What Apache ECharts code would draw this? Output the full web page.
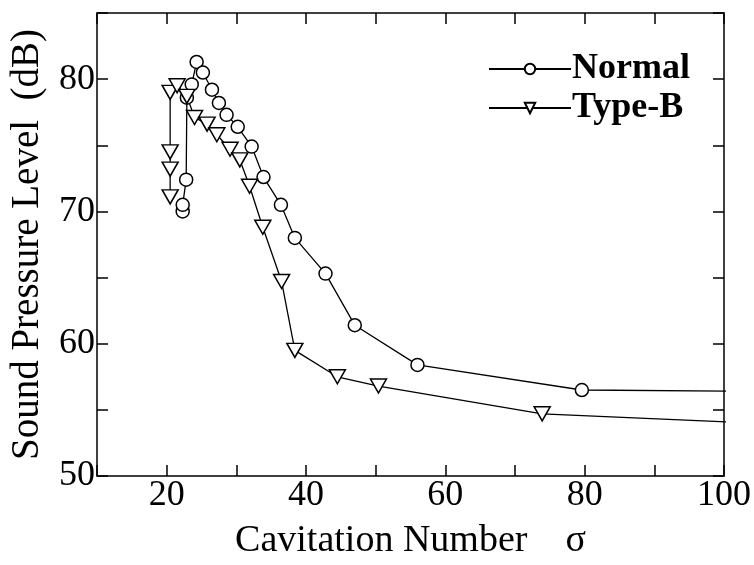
<!DOCTYPE html>
<html>
<head>
<meta charset="utf-8">
<script src="https://cdn.jsdelivr.net/npm/echarts@6/dist/echarts.min.js"></script>
<style>html,body{margin:0;padding:0;background:#fff;}#c{width:754px;height:565px;}</style>
</head>
<body>
<div id="c"></div>
<script>
// Data
var normalX = [22.3, 22.3, 22.8, 22.9, 23.6, 24.3, 25.2, 26.5, 27.5, 28.6, 30.2, 32.2, 33.9, 36.4, 38.4, 42.8, 47.0, 56.0, 79.6, 130];
var normalY = [70.0, 70.5, 72.4, 78.6, 79.6, 81.3, 80.5, 79.2, 78.2, 77.3, 76.4, 74.9, 72.6, 70.5, 68.0, 65.3, 61.4, 58.4, 56.5, 56.3];
var typeBX = [20.5, 20.5, 20.5, 20.5, 21.5, 22.9, 24.0, 25.8, 27.2, 29.1, 30.5, 31.9, 33.8, 36.5, 38.4, 44.5, 50.4, 73.9, 130];
var typeBY = [71.1, 73.2, 74.5, 79.0, 79.5, 78.7, 77.1, 76.6, 75.8, 74.7, 73.9, 71.9, 68.8, 64.7, 59.5, 57.5, 56.8, 54.7, 53.4];
var xTickLabels = [20, 40, 60, 80, 100];
var yTickLabels = [50, 60, 70, 80];
var seriesNames = ['Normal', 'Type-B'];

function pairs(xs, ys) { return xs.map(function (x, i) { return [x, ys[i]]; }); }

var FONT = 'Liberation Serif';
var chart = echarts.init(document.getElementById('c'));
var axisCommon = {
  axisLine: { show: true, onZero: false, lineStyle: { color: '#000', width: 1.5 } },
  axisTick: { show: true, inside: true, length: 11, lineStyle: { color: '#000', width: 1.5 } },
  splitLine: { show: false }
};
chart.setOption({
  animation: false,
  backgroundColor: '#fff',
  grid: { left: 97, right: 29, top: 13, bottom: 87 },
  legend: {
    left: 488, top: 51, orient: 'vertical', itemWidth: 82, itemHeight: 13, itemGap: 3, padding: 0,
    data: seriesNames,
    textStyle: { fontFamily: FONT, fontSize: 36, fontWeight: 'bold', color: '#000', padding: [0, 0, 0, -4] }
  },
  xAxis: [
    Object.assign({}, axisCommon, {
      type: 'value', position: 'bottom', min: 10, max: 100, interval: 10,
      name: 'Cavitation Number    σ', nameLocation: 'middle', nameGap: 46,
      nameTextStyle: { fontFamily: FONT, fontSize: 38, color: '#000' },
      axisLabel: {
        fontFamily: FONT, fontSize: 36, color: '#000', margin: 2,
        formatter: function (v) { return xTickLabels.indexOf(v) >= 0 ? String(v) : ''; }
      }
    }),
    Object.assign({}, axisCommon, {
      type: 'value', position: 'top', min: 10, max: 100, interval: 10,
      axisLabel: { show: false }
    })
  ],
  yAxis: [
    Object.assign({}, axisCommon, {
      type: 'value', position: 'left', min: 50, max: 85, interval: 5,
      name: 'Sound Pressure Level  (dB)', nameLocation: 'middle', nameGap: 50,
      nameTextStyle: { fontFamily: FONT, fontSize: 39, color: '#000' },
      axisLabel: {
        fontFamily: FONT, fontSize: 36, color: '#000', margin: 2,
        formatter: function (v) { return yTickLabels.indexOf(v) >= 0 ? String(v) : ''; }
      }
    }),
    Object.assign({}, axisCommon, {
      type: 'value', position: 'right', min: 50, max: 85, interval: 5,
      axisLabel: { show: false }
    })
  ],
  series: [
    {
      name: seriesNames[0], type: 'line', xAxisIndex: 0, yAxisIndex: 0,
      data: pairs(normalX, normalY),
      symbol: 'circle', symbolSize: 13, showAllSymbol: true, clip: true,
      lineStyle: { color: '#000', width: 1.3 },
      itemStyle: { color: '#fff', borderColor: '#000', borderWidth: 1.5 }
    },
    {
      name: seriesNames[1], type: 'line', xAxisIndex: 0, yAxisIndex: 0,
      data: pairs(typeBX, typeBY),
      symbol: 'path://M0,0 L16,0 L8,14 Z', symbolSize: [16, 14], showAllSymbol: true, clip: true,
      lineStyle: { color: '#000', width: 1.3 },
      itemStyle: { color: '#fff', borderColor: '#000', borderWidth: 1.5 }
    }
  ]
});
</script>
</body>
</html>
